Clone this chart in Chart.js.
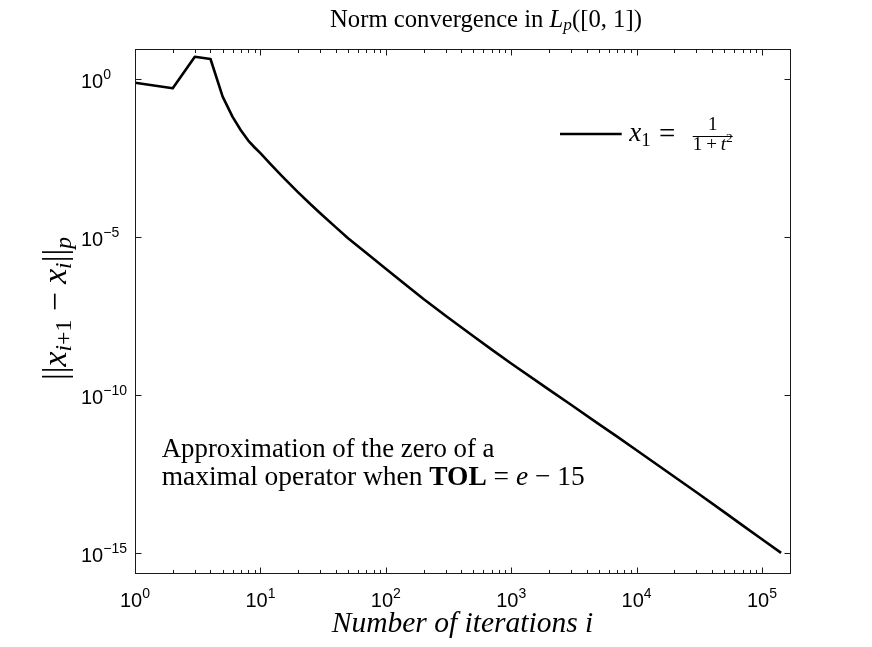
<!DOCTYPE html>
<html><head><meta charset="utf-8">
<script src="https://cdn.jsdelivr.net/npm/chart.js@4.4.0/dist/chart.umd.min.js"></script>
<style>html,body{margin:0;padding:0;background:#fff;overflow:hidden}#wrap{width:872px;height:647px;position:relative}</style>
</head><body><div id="wrap"><canvas id="c" width="872" height="647"></canvas></div>
<script>
// ---- data ----
const iterations = [1,2,3,4,5,6,7,8,9,10,12,15,20,25,30,40,50,70,100,150,200,300,500,700,1000,2000,3000,5000,7000,10000,20000,30000,50000,70000,100000,142000];
const normDiff = [0.776,0.519,5.2,4.4,0.282,0.0646,0.0240,0.01148,0.00692,0.00457,0.00209,8.3e-4,2.63e-4,1.12e-4,5.75e-5,2.04e-5,9.3e-6,3.16e-6,1.0e-6,2.75e-7,1.10e-7,3.24e-8,7.24e-9,2.75e-9,1.0e-9,1.48e-10,4.9e-11,1.20e-11,4.8e-12,1.78e-12,2.57e-13,8.3e-14,1.95e-14,7.4e-15,2.7e-15,1.0e-15];
const xMajorTicks = [1,10,100,1000,10000,100000];
const xTickExponents = ['0','1','2','3','4','5'];
const yMajorTicks = [1,1e-5,1e-10,1e-15];
const yTickExponents = ['0','\u22125','\u221210','\u221215'];
const seriesLabel = 'x1 = 1/(1+t^2)';

const SERIF = '"Liberation Serif", "DejaVu Serif", serif';
const SANS = '"Liberation Sans", Arial, sans-serif';

function fontOf(s, size){ return (s.style||'') + ' ' + (size*(s.scale||1)) + 'px ' + (s.family||SERIF); }
function measureRich(ctx, segs, size){
  let w=0; for(const s of segs){ ctx.font=fontOf(s,size); w+=ctx.measureText(s.t).width; } return w;
}
function drawRich(ctx, segs, x, y, size){
  let cx=x;
  for(const s of segs){ ctx.font=fontOf(s,size); ctx.fillText(s.t,cx,y+(s.dy||0)*size); cx+=ctx.measureText(s.t).width; }
  return cx-x;
}
function fitSize(ctx, segs, target){ const b=24; return b*target/measureRich(ctx,segs,b); }

const deco = {
  id:'deco',
  afterDatasetsDraw(chart){
    const ctx=chart.ctx, a=chart.chartArea, xs=chart.scales.x, ys=chart.scales.y;
    ctx.save();
    ctx.strokeStyle='#1a1a1a'; ctx.lineWidth=1;
    const L=Math.round(a.left)+0.5, R=Math.round(a.right)-0.5, T=Math.round(a.top)+0.5, B=Math.round(a.bottom)-0.5;
    ctx.strokeRect(L,T,R-L,B-T);
    ctx.beginPath();
    for(let k=0;k<=5;k++){
      for(let m=1;m<=9;m++){
        const v=m*Math.pow(10,k); if(v>xs.max) break;
        const px=Math.round(xs.getPixelForValue(v))+0.5; const len=(m===1)?6:3.5;
        ctx.moveTo(px,B); ctx.lineTo(px,B-len); ctx.moveTo(px,T); ctx.lineTo(px,T+len);
      }
    }
    for(const v of yMajorTicks){
      const py=Math.round(ys.getPixelForValue(v))+0.5;
      ctx.moveTo(L,py); ctx.lineTo(L+6,py); ctx.moveTo(R,py); ctx.lineTo(R-6,py);
    }
    ctx.stroke();
    ctx.restore();
  },
  afterDraw(chart){
    const ctx=chart.ctx, a=chart.chartArea, xs=chart.scales.x, ys=chart.scales.y;
    ctx.save(); ctx.fillStyle='#000'; ctx.textBaseline='alphabetic'; ctx.textAlign='left';
    const main=20, sup=14;
    xMajorTicks.forEach((v,i)=>{
      const px=xs.getPixelForValue(v);
      ctx.font=main+'px '+SANS; const w1=ctx.measureText('10').width;
      ctx.font=sup+'px '+SANS; const w2=ctx.measureText(xTickExponents[i]).width;
      const x0=px-(w1+w2)/2;
      ctx.font=main+'px '+SANS; ctx.fillText('10',x0,607);
      ctx.font=sup+'px '+SANS; ctx.fillText(xTickExponents[i],x0+w1,598);
    });
    yMajorTicks.forEach((v,i)=>{
      const py=ys.getPixelForValue(v);
      ctx.font=main+'px '+SANS; const w1=ctx.measureText('10').width;
      const x0=81;
      ctx.fillText('10',x0,py+9);
      ctx.font=sup+'px '+SANS; ctx.fillText(yTickExponents[i],x0+w1,py);
    });
    // title
    const tSegs=[{t:'Norm convergence in '},{t:'L',style:'italic'},{t:'p',style:'italic',scale:0.7,dy:0.15},{t:'([0, 1])'}];
    drawRich(ctx,tSegs,330,26.5,fitSize(ctx,tSegs,312));
    // x label
    const xl=[{t:'Number of iterations i',style:'italic'}];
    drawRich(ctx,xl,331.7,632.3,fitSize(ctx,xl,261.6));
    // y label (rotated)
    const yl=[{t:'||'},{t:'x',style:'italic'},{t:'i',style:'italic',scale:0.7,dy:0.15},{t:'+1',scale:0.7,dy:0.15},{t:' \u2212 '},{t:'x',style:'italic'},{t:'i',style:'italic',scale:0.7,dy:0.15},{t:'||'},{t:'p',style:'italic',scale:0.7,dy:0.15}];
    ctx.save(); ctx.translate(66,380); ctx.rotate(-Math.PI/2);
    drawRich(ctx,yl,0,0,fitSize(ctx,yl,143)); ctx.restore();
    // annotation
    const a1=[{t:'Approximation of the zero of a'}];
    const s1=fitSize(ctx,[{t:'Approximation of the zero'}],285.3);
    drawRich(ctx,a1,161.7,456.7,s1);
    const a2=[{t:'maximal operator when '},{t:'TOL',style:'bold'},{t:' = '},{t:'e',style:'italic'},{t:' \u2212 15'}];
    drawRich(ctx,a2,161.7,485,fitSize(ctx,a2,423.3));
    // legend
    ctx.strokeStyle='#000'; ctx.lineWidth=2.6;
    ctx.beginPath(); ctx.moveTo(560,134); ctx.lineTo(621.7,134); ctx.stroke();
    drawRich(ctx,[{t:'x',style:'italic'},{t:'1',scale:0.7,dy:0.2}],629.3,141,27);
    ctx.font='29px '+SERIF; ctx.fillText('=',659,143);
    const fs=19;
    ctx.font=fs+'px '+SERIF; const nw=ctx.measureText('1').width;
    ctx.fillText('1',712.7-nw/2,129.5);
    ctx.lineWidth=1; ctx.beginPath(); ctx.moveTo(692.7,136.5); ctx.lineTo(732.7,136.5); ctx.stroke();
    const den=[{t:'1\u2009+\u2009'},{t:'t',style:'italic'},{t:'2',scale:0.7,dy:-0.4}];
    const dw=measureRich(ctx,den,fs);
    drawRich(ctx,den,712.7-dw/2,149.5,fs);
    ctx.restore();
  }
};

const ctx=document.getElementById('c').getContext('2d');
new Chart(ctx,{
  type:'line',
  data:{datasets:[{label:seriesLabel,data:iterations.map((x,i)=>({x:x,y:normDiff[i]})),borderColor:'#000',borderWidth:2.6,pointRadius:0,tension:0,fill:false,borderJoinStyle:'round'}]},
  options:{
    responsive:false, animation:false,
    layout:{padding:{left:135,right:81.3,top:48.7,bottom:73}},
    scales:{
      x:{type:'logarithmic',min:1,max:1.694e5,display:false},
      y:{type:'logarithmic',min:2.14e-16,max:9.33,display:false}
    },
    plugins:{legend:{display:false},title:{display:false},tooltip:{enabled:false}}
  },
  plugins:[deco]
});
</script></body></html>
